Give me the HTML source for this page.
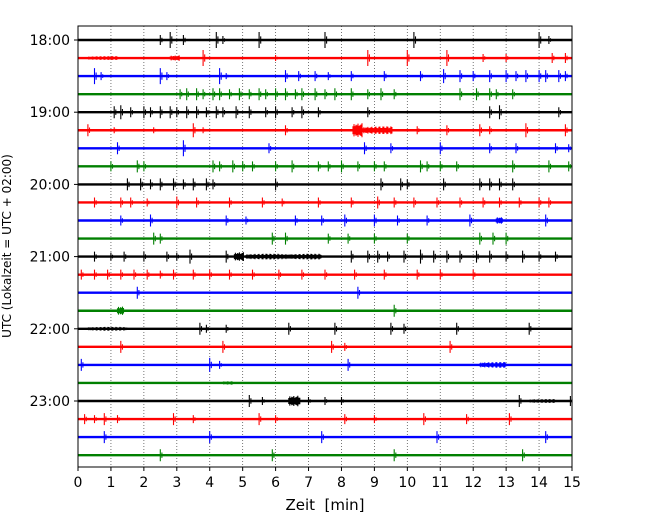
<!DOCTYPE html>
<html><head><meta charset="utf-8"><style>
body{margin:0;background:#fff}
svg{display:block;font-family:"DejaVu Sans","Liberation Sans",sans-serif}
</style></head><body>
<svg id="chart" width="650" height="520" viewBox="0 0 650 520" xmlns="http://www.w3.org/2000/svg">
<rect width="650" height="520" fill="#fff"/>
<g id="grid"></g><g id="traces"></g><g id="axes"></g>
</svg>
<script>
const xTicks=[0,1,2,3,4,5,6,7,8,9,10,11,12,13,14,15];
const hourLabels=["18:00","19:00","20:00","21:00","22:00","23:00"];
const colors=["#000000","#ff0000","#0000ff","#008000"];
// events per trace: [minute, amplitude(px), duration(min)]
const tr0=[[2.5,5,.1],[2.8,8,.1],[3.2,5,.1],[4.2,8,.1],[4.4,4,.1],[5.5,8,.1],[7.5,8,.1],[10.2,8,.1],[14.0,8,.1],[14.3,4,.1]];
const tr1=[[0.3,2,.9],[2.8,3,.3],[3.8,8,.1],[6.0,3,.1],[8.8,8,.1],[10.0,8,.1],[11.2,8,.1],[12.3,4,.1],[13.0,4,.1],[14.4,5,.1],[14.8,5,.1]];
const tr2=[[0.5,8,.1],[0.7,4,.1],[2.5,8,.1],[2.7,4,.1],[4.3,8,.1],[4.5,3,.1],[6.3,6,.1],[6.7,5,.1],[7.2,5,.1],[7.6,4,.1],[8.3,5,.1],[9.3,5,.1],[10.4,5,.1],[11.1,7,.1],[11.6,6,.1],[12.0,5,.1],[12.5,6,.1],[13.0,6,.1],[13.3,5,.1],[13.6,6,.1],[14.0,6,.1],[14.2,6,.1],[14.6,6,.1],[14.8,5,.1]];
const tr3=[[3.1,5,.1],[3.3,6,.1],[3.6,6,.1],[3.8,5,.1],[4.1,6,.1],[4.3,6,.1],[4.6,5,.1],[4.9,6,.1],[5.2,5,.1],[5.5,6,.1],[5.7,5,.1],[6.0,6,.1],[6.3,6,.1],[6.6,5,.1],[6.8,6,.1],[7.2,6,.1],[7.5,5,.1],[7.8,6,.1],[8.3,6,.1],[8.8,5,.1],[9.2,6,.1],[9.6,5,.1],[11.6,6,.1],[12.1,6,.1],[12.5,6,.1],[12.7,5,.1],[13.2,5,.1]];
const tr4=[[1.1,6,.1],[1.3,7,.1],[1.6,5,.1],[2.0,6,.1],[2.2,5,.1],[2.5,6,.1],[2.8,6,.1],[3.0,5,.1],[3.3,6,.1],[3.6,6,.1],[3.9,5,.1],[4.2,6,.1],[4.4,5,.1],[4.8,6,.1],[5.2,6,.1],[5.7,5,.1],[6.0,6,.1],[6.5,5,.1],[6.8,6,.1],[7.3,5,.1],[8.8,5,.1],[12.5,6,.1],[12.8,7,.1],[14.6,5,.1]];
const tr5=[[0.3,6,.1],[1.1,3,.1],[2.3,3,.1],[3.5,7,.1],[3.8,3,.1],[6.3,5,.1],[8.35,8,.3],[8.65,4,.9],[10.3,4,.1],[11.2,5,.1],[12.2,6,.1],[12.5,4,.1],[13.6,7,.1],[14.8,6,.1]];
const tr6=[[1.2,6,.1],[3.2,8,.1],[5.8,5,.1],[8.7,6,.1],[9.5,5,.1],[11.0,6,.1],[12.5,5,.1],[13.3,5,.1],[14.5,5,.1],[14.9,4,.1]];
const tr7=[[1.0,5,.1],[1.8,6,.1],[2.0,5,.1],[4.1,6,.1],[4.3,5,.1],[4.7,6,.1],[5.0,5,.1],[5.3,5,.1],[6.0,5,.1],[6.5,6,.1],[7.3,5,.1],[7.6,5,.1],[8.0,6,.1],[8.5,5,.1],[9.0,5,.1],[9.3,5,.1],[10.4,6,.1],[10.6,5,.1],[11.0,5,.1],[11.5,5,.1],[13.2,6,.1],[14.3,6,.1],[14.9,5,.1]];
const tr8=[[1.5,6,.1],[1.9,6,.1],[2.2,5,.1],[2.5,6,.1],[2.9,6,.1],[3.2,5,.1],[3.5,6,.1],[3.9,6,.1],[4.1,5,.1],[6.0,6,.1],[9.2,6,.1],[9.8,6,.1],[10.0,5,.1],[11.1,6,.1],[12.2,6,.1],[12.5,6,.1],[12.8,6,.1],[13.2,6,.1]];
const tr9=[[0.5,5,.1],[1.3,5,.1],[1.6,5,.1],[2.1,4,.1],[3.0,6,.1],[3.6,5,.1],[4.6,5,.1],[5.6,5,.1],[6.2,4,.1],[7.3,5,.1],[8.3,5,.1],[9.1,6,.1],[9.6,5,.1],[10.2,5,.1],[10.9,5,.1],[11.6,5,.1],[12.3,5,.1],[12.8,5,.1],[13.4,5,.1],[14.0,5,.1],[14.3,5,.1]];
const tr10=[[1.3,5,.1],[2.2,6,.1],[4.5,5,.1],[5.1,4,.1],[6.6,5,.1],[7.4,5,.1],[8.1,6,.1],[9.0,6,.1],[9.7,5,.1],[10.6,5,.1],[11.9,6,.1],[12.7,4,.2],[14.2,6,.1]];
const tr11=[[2.3,6,.1],[2.5,5,.1],[5.9,6,.1],[6.3,6,.1],[7.6,5,.1],[8.2,5,.1],[9.0,5,.1],[10.0,5,.1],[12.2,6,.1],[12.6,6,.1],[13.0,6,.1]];
const tr12=[[0.5,5,.1],[1.0,4,.1],[1.4,5,.1],[2.0,5,.1],[2.7,5,.1],[3.0,4,.1],[3.4,7,.1],[4.5,6,.1],[4.75,5,.3],[5.1,3,2.3],[8.3,6,.1],[8.8,6,.1],[9.1,6,.1],[9.4,5,.1],[9.9,6,.1],[10.4,7,.1],[10.8,6,.1],[11.2,6,.1],[11.6,6,.1],[12.1,6,.1],[12.5,6,.1],[13.0,5,.1],[13.5,6,.1],[14.0,5,.1],[14.5,5,.1]];
const tr13=[[0.1,5,.1],[0.5,5,.1],[0.9,5,.1],[1.3,5,.1],[1.7,5,.1],[2.1,5,.1],[2.5,4,.1],[2.9,5,.1],[3.5,5,.1],[4.0,5,.1],[4.6,5,.1],[5.3,5,.1],[6.1,5,.1],[6.8,5,.1],[7.5,5,.1],[8.4,5,.1],[9.3,5,.1],[10.3,5,.1],[11.0,5,.1],[12.0,5,.1]];
const tr14=[[1.8,6,.1],[8.5,6,.1]];
const tr15=[[1.2,5,.2],[9.6,6,.1]];
const tr16=[[0.3,2,1.2],[3.7,6,.1],[3.9,4,.1],[4.5,4,.1],[6.4,6,.1],[7.8,6,.1],[9.5,6,.1],[9.9,5,.1],[11.5,6,.1],[13.7,6,.1]];
const tr17=[[1.3,6,.1],[4.4,6,.1],[7.7,6,.1],[8.1,4,.1],[11.3,6,.1]];
const tr18=[[0.1,6,.1],[4.0,7,.1],[4.3,4,.1],[8.2,6,.1],[12.2,3,.8]];
const tr19=[[4.4,2,.3]];
const tr20=[[5.2,6,.1],[5.6,4,.1],[6.4,6,.35],[7.0,4,.1],[7.5,4,.1],[8.0,4,.1],[13.4,6,.1],[13.7,2,.8],[14.95,5,.1]];
const tr21=[[0.2,5,.1],[0.5,4,.1],[0.8,6,.1],[1.2,4,.1],[2.9,6,.1],[3.5,4,.1],[5.5,6,.1],[6.0,4,.1],[8.1,5,.1],[9.0,4,.1],[10.5,6,.1],[11.8,5,.1],[13.1,6,.1]];
const tr22=[[0.8,6,.1],[4.0,6,.1],[7.4,6,.1],[10.9,6,.1],[14.2,6,.1]];
const tr23=[[2.5,6,.1],[5.9,6,.1],[9.6,6,.1],[13.5,6,.1]];
const traceEvents=[tr0,tr1,tr2,tr3,tr4,tr5,tr6,tr7,tr8,tr9,tr10,tr11,tr12,tr13,tr14,tr15,tr16,tr17,tr18,tr19,tr20,tr21,tr22,tr23];

const L=78,R=572,T=26,B=467,Y0=40,DY=18.05;
const xs=m=>L+m/15*(R-L);
const ys=i=>Y0+i*DY;
const NS="http://www.w3.org/2000/svg";
function mk(tag,attrs,parent){const e=document.createElementNS(NS,tag);for(const k in attrs)e.setAttribute(k,attrs[k]);parent.appendChild(e);return e;}
const grid=document.getElementById('grid'),traces=document.getElementById('traces'),axes=document.getElementById('axes');
xTicks.forEach(t=>{if(t>0&&t<15){const g=mk('line',{x1:xs(t),x2:xs(t),y1:T,y2:B,stroke:'#555','stroke-width':0.8,'stroke-dasharray':'1,2'},grid);

}});
const seg=(x,y,h)=>`M${x.toFixed(1)},${(y-h).toFixed(1)}V${(y+h).toFixed(1)}`;
traceEvents.forEach((evs,i)=>{
  const y=ys(i),c=colors[i%4];
  const g=mk('g',{},traces);
  
  
  mk('line',{x1:L,x2:R,y1:y,y2:y,stroke:c,'stroke-width':2.4},g);
  evs.forEach(e=>{
    const [t,a,d]=e;const x0=xs(t);
    let dpath='';
    if(d<=0.15){
      dpath=seg(x0,y,a)+seg(x0+1.6,y,a*0.45);
    } else {
      const w=xs(t+d)-x0;
      for(let k=0;k<=w;k+=1){dpath+=seg(x0+k,y,a*(0.5+0.5*Math.abs(Math.sin(k*2.3)*Math.cos(k*0.77))));}
    }
    const p=mk('path',{d:dpath,fill:'none',stroke:c,'stroke-width':1.1},g);
    
    
  });
});
const fr=mk('rect',{x:L,y:T,width:R-L,height:B-T,fill:'none',stroke:'#000','stroke-width':1},axes);


xTicks.forEach(t=>{
  mk('line',{x1:xs(t),x2:xs(t),y1:B,y2:B+4,stroke:'#000'},axes);
  const tx=mk('text',{x:xs(t),y:B+20,'text-anchor':'middle','font-size':14},axes);tx.textContent=t;
  
  
});
hourLabels.forEach((h,j)=>{
  const y=ys(j*4);
  mk('line',{x1:L-4,x2:L,y1:y,y2:y,stroke:'#000'},axes);
  const tx=mk('text',{x:L-8,y:y+5,'text-anchor':'end','font-size':14},axes);tx.textContent=h;
  
  
});
const xl=mk('text',{x:(L+R)/2,y:510,'text-anchor':'middle','font-size':15},axes);xl.textContent='Zeit\u00a0\u00a0[min]';


const yl=mk('text',{x:0,y:0,'text-anchor':'middle','font-size':12,transform:'translate(11,246) rotate(-90)'},axes);yl.textContent='UTC (Lokalzeit = UTC + 02:00)';


</script>
</body></html>
